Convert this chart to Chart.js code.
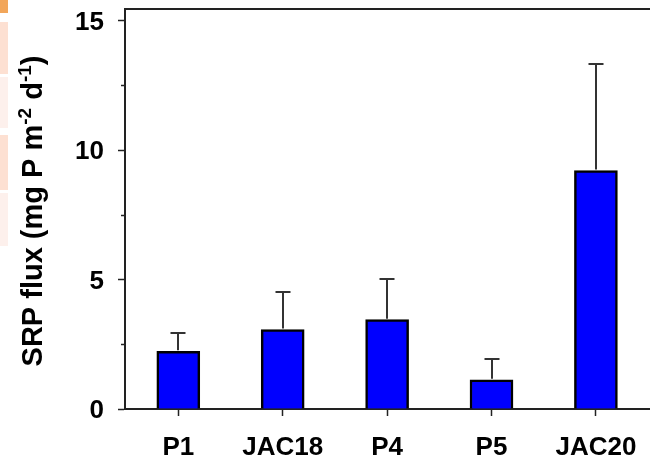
<!DOCTYPE html>
<html>
<head>
<meta charset="utf-8">
<script src="https://cdn.jsdelivr.net/npm/chart.js@4/dist/chart.umd.min.js"></script>
<style>
  html, body { margin: 0; padding: 0; background: #fff; overflow: hidden; }
  #wrap { position: relative; width: 650px; height: 461px; }
  #c { position: absolute; left: 0; top: 0; }
  .strip { position: absolute; left: 0; width: 8px; }
</style>
</head>
<body>
<div id="wrap">
  <canvas id="c" width="650" height="461"></canvas>
  <div class="strip" style="top:0;height:13px;background:#f2a65a"></div>
  <div class="strip" style="top:22px;height:52px;background:#fde0d2"></div>
  <div class="strip" style="top:77px;height:51px;background:#fdf0ec"></div>
  <div class="strip" style="top:135px;height:55px;background:#fde0d2"></div>
  <div class="strip" style="top:193px;height:53px;background:#fdf0ec"></div>
</div>
<script>
// Sites and mean SRP flux with upward standard error
const categories = ['P1', 'JAC18', 'P4', 'P5', 'JAC20'];
const srpFlux = [2.23, 3.07, 3.45, 1.13, 9.21];
const srpFluxError = [0.71, 1.43, 1.57, 0.82, 4.11];
const yMajorTicks = [0, 5, 10, 15];
const yMinorTicks = [2.5, 7.5, 12.5];

const FONT = "'Liberation Sans', Arial, sans-serif";
const AXIS_COLOR = '#222';

// Upward error bars with caps
const errorBars = {
  id: 'errorBars',
  afterDatasetsDraw(chart) {
    const { ctx, scales: { x, y } } = chart;
    ctx.save();
    ctx.strokeStyle = '#333';
    ctx.lineWidth = 2;
    srpFlux.forEach((v, i) => {
      const px = Math.round(x.getPixelForValue(i + 1));
      const yTop = y.getPixelForValue(v);
      const yErr = Math.round(y.getPixelForValue(v + srpFluxError[i]));
      ctx.beginPath();
      ctx.moveTo(px, yTop - 1);
      ctx.lineTo(px, yErr);
      ctx.moveTo(px - 7.5, yErr);
      ctx.lineTo(px + 7.5, yErr);
      ctx.stroke();
    });
    ctx.restore();
  }
};

// Top frame line, short minor ticks and the y-axis title with superscripts
const frameAndTitle = {
  id: 'frameAndTitle',
  afterDraw(chart) {
    const { ctx, chartArea, scales: { y } } = chart;
    ctx.save();
    ctx.strokeStyle = AXIS_COLOR;
    ctx.lineWidth = 2;
    ctx.beginPath();
    ctx.moveTo(chartArea.left - 1, chartArea.top);
    ctx.lineTo(chart.width, chartArea.top);
    ctx.stroke();

    ctx.lineWidth = 1.5;
    yMinorTicks.forEach(v => {
      const py = Math.round(y.getPixelForValue(v)) + 0.5;
      ctx.beginPath();
      ctx.moveTo(chartArea.left - 4, py);
      ctx.lineTo(chartArea.left, py);
      ctx.stroke();
    });

    const size = 29;
    const supSize = 19;
    const parts = [
      { t: 'SRP flux (mg P m', sup: false },
      { t: '-2', sup: true },
      { t: ' d', sup: false },
      { t: '-1', sup: true },
      { t: ')', sup: false }
    ];
    const fontOf = p => `bold ${p.sup ? supSize : size}px ${FONT}`;
    let total = 0;
    parts.forEach(p => { ctx.font = fontOf(p); p.w = ctx.measureText(p.t).width; total += p.w; });
    const cy = (chartArea.top + chartArea.bottom) / 2 + 2;
    ctx.translate(42, cy);
    ctx.rotate(-Math.PI / 2);
    ctx.fillStyle = '#000';
    ctx.textBaseline = 'alphabetic';
    ctx.textAlign = 'left';
    let xPos = -total / 2;
    parts.forEach(p => {
      ctx.font = fontOf(p);
      ctx.fillText(p.t, xPos, p.sup ? -11 : 0);
      xPos += p.w;
    });
    ctx.restore();
  }
};

new Chart(document.getElementById('c'), {
  type: 'bar',
  data: {
    datasets: [{
      data: srpFlux.map((v, i) => ({ x: i + 1, y: v })),
      backgroundColor: '#0000ff',
      borderColor: '#000',
      borderWidth: 2.5,
      borderSkipped: 'start',
      barThickness: 43
    }]
  },
  options: {
    responsive: false,
    devicePixelRatio: 1,
    animation: false,
    layout: { padding: { top: 9, right: 0, bottom: 0, left: 0 } },
    plugins: { legend: { display: false }, tooltip: { enabled: false } },
    scales: {
      x: {
        type: 'linear',
        min: 0.4895,
        max: 5.518,
        offset: false,
        afterBuildTicks(s) { s.ticks = categories.map((c, i) => ({ value: i + 1 })); },
        ticks: {
          autoSkip: false,
          maxRotation: 0,
          padding: 16,
          color: '#000',
          font: { family: FONT, size: 26, weight: 'bold' },
          callback: (v, i) => categories[i]
        },
        grid: { offset: false, drawOnChartArea: false, drawTicks: true, tickLength: 7, tickColor: AXIS_COLOR, tickWidth: 1.5 },
        border: { display: true, color: AXIS_COLOR, width: 2 },
        afterFit(s) { s.height = 52; s.paddingLeft = 0; s.paddingRight = 0; }
      },
      y: {
        type: 'linear',
        min: 0,
        max: 15.45,
        afterBuildTicks(s) { s.ticks = yMajorTicks.map(v => ({ value: v })); },
        ticks: {
          padding: 14,
          labelOffset: 2,
          color: '#000',
          font: { family: FONT, size: 26, weight: 'bold' }
        },
        grid: { drawOnChartArea: false, drawTicks: true, tickLength: 7, tickColor: AXIS_COLOR, tickWidth: 1.5 },
        border: { display: true, color: AXIS_COLOR, width: 2 },
        afterFit(s) { s.width = 125; s.paddingTop = 0; s.paddingBottom = 0; }
      }
    }
  },
  plugins: [errorBars, frameAndTitle]
});
</script>
</body>
</html>
